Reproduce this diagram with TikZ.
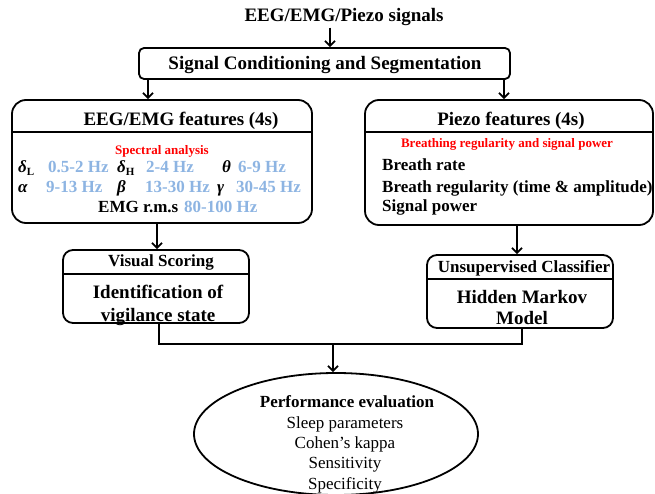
\documentclass[tikz,border=0pt]{standalone}
\usepackage{fontspec}
\setmainfont{Liberation Serif}
\usetikzlibrary{arrows.meta,shapes.geometric}
\definecolor{lblue}{RGB}{141,180,226}
\tikzset{
  box/.style={draw, line width=1.8pt, rounded corners=#1, inner sep=0pt},
  box/.default=6pt,
  divider/.style={line width=2.2pt},
  ttl/.style={font=\fontsize{19}{22}\selectfont\bfseries, inner sep=0pt},
  bd/.style={font=\fontsize{17}{20}\selectfont\bfseries, inner sep=0pt},
  rg/.style={font=\fontsize{17}{20}\selectfont, inner sep=0pt},
  rd/.style={font=\fontsize{13}{15}\selectfont\bfseries, text=red, inner sep=0pt},
  bl/.style={bd, text=lblue},
  arr/.style={-{Straight Barb[length=5pt,width=10pt]}, line width=1.8pt},
  conn/.style={line width=1.8pt}
}
\newcommand{\subsc}[1]{\raisebox{-0.35ex}{\fontsize{11}{12}\selectfont\upshape #1}}
\begin{document}
\begin{tikzpicture}[x=1pt,y=-1pt]
\useasboundingbox (0,0) rectangle (655,494);

% title
\node[ttl, anchor=base] (title) at (344,21.3) {EEG/EMG/Piezo signals};

% signal conditioning
\node[box=5pt, minimum width=371pt, minimum height=31pt] (sc) at (324.5,63.5) {};
\node[ttl, anchor=base] (sct) at (325,69.3) {Signal Conditioning and Segmentation};

% EEG/EMG box
\node[box=14pt, minimum width=300pt, minimum height=123pt] (eeg) at (162,161.5) {};
\draw[divider] (eeg.west |- 0,132) -- (eeg.east |- 0,132);
\node[ttl, anchor=base] (eegt) at (181,125.3) {EEG/EMG features (4s)};
\node[rd, anchor=base] (spec) at (162,154.3) {Spectral analysis};
% row 1
\node[bd, anchor=base west] (dl) at (18,172.6) {\itshape δ\subsc{L}};
\node[bl, anchor=base west] (dlv) at (48,172.6) {0.5-2 Hz};
\node[bd, anchor=base west] (dh) at (117,172.6) {\itshape δ\subsc{H}};
\node[bl, anchor=base west] (dhv) at (146,172.6) {2-4 Hz};
\node[bd, anchor=base west] (th) at (222,172.6) {\itshape θ};
\node[bl, anchor=base west] (thv) at (238,172.6) {6-9 Hz};
% row 2
\node[bd, anchor=base west] (al) at (18,192.6) {\itshape α};
\node[bl, anchor=base west] (alv) at (46,192.6) {9-13 Hz};
\node[bd, anchor=base west] (be) at (117,192.6) {\itshape β};
\node[bl, anchor=base west] (bev) at (145,192.6) {13-30 Hz};
\node[bd, anchor=base west] (ga) at (217,192.6) {\itshape γ};
\node[bl, anchor=base west] (gav) at (236,192.6) {30-45 Hz};
% row 3
\node[bd, anchor=base west] (emg) at (98,212.6) {EMG r.m.s};
\node[bl, anchor=base west] (emgv) at (184,212.6) {80-100 Hz};

% Piezo box
\node[box=14pt, minimum width=288pt, minimum height=125pt] (piezo) at (509,162.5) {};
\draw[divider] (piezo.west |- 0,132) -- (piezo.east |- 0,132);
\node[ttl, anchor=base] (pzt) at (511,125.3) {Piezo features (4s)};
\node[rd, anchor=base] (brs) at (507,147.3) {Breathing regularity and signal power};
\node[bd, anchor=base west] (br1) at (382,170.6) {Breath rate};
\node[bd, anchor=base west] (br2) at (382,192.6) {Breath regularity (time \& amplitude)};
\node[bd, anchor=base west] (br3) at (382,211.6) {Signal power};

% Visual scoring box
\node[box=10pt, minimum width=186pt, minimum height=73pt] (vs) at (156,286.5) {};
\draw[divider] (vs.west |- 0,274) -- (vs.east |- 0,274);
\node[bd, anchor=base] (vst) at (161,266.6) {Visual Scoring};
\node[ttl, anchor=base] (vs1) at (158,298.3) {Identification of};
\node[ttl, anchor=base] (vs2) at (158,321.3) {vigilance state};

% HMM box
\node[box=10pt, minimum width=186pt, minimum height=73pt] (hmm) at (520,291.5) {};
\draw[divider] (hmm.west |- 0,279) -- (hmm.east |- 0,279);
\node[bd, anchor=base] (hmt) at (524,272.6) {Unsupervised Classifier};
\node[ttl, anchor=base] (hm1) at (522,303.3) {Hidden Markov};
\node[ttl, anchor=base] (hm2) at (522,324.3) {Model};

% Performance ellipse
\node[draw, ellipse, line width=1.8pt, minimum width=284pt, minimum height=122pt, inner sep=0pt] (pe) at (336,434) {};
\node[bd, anchor=base] (pe0) at (347,407.6) {Performance evaluation};
\node[rg, anchor=base] (pe1) at (345,428.6) {Sleep parameters};
\node[rg, anchor=base] (pe2) at (345,448.6) {Cohen’s kappa};
\node[rg, anchor=base] (pe3) at (345,468.6) {Sensitivity};
\node[rg, anchor=base] (pe4) at (345,489.6) {Specificity};

% connectors
\coordinate (a0) at (330,0);
\coordinate (a1) at (148,0);
\coordinate (a2) at (504,0);
\coordinate (a3) at (157,0);
\coordinate (a4) at (517,0);
\coordinate (b1) at (159,0);
\coordinate (b2) at (522,0);
\coordinate (j) at (333,344);
\draw[arr, shorten <=2pt] (title.south -| a0) -- (sc.north -| a0);
\draw[arr] (sc.south -| a1) -- (eeg.north -| a1);
\draw[arr] (sc.south -| a2) -- (piezo.north -| a2);
\draw[arr] (eeg.south -| a3) -- (vs.north -| a3);
\draw[arr] (piezo.south -| a4) -- (hmm.north -| a4);
\draw[conn] (vs.south -| b1) -- (b1 |- j) -- (b2 |- j) -- (hmm.south -| b2);
\draw[arr] (j) -- (j |- pe.north);
\end{tikzpicture}
\end{document}
